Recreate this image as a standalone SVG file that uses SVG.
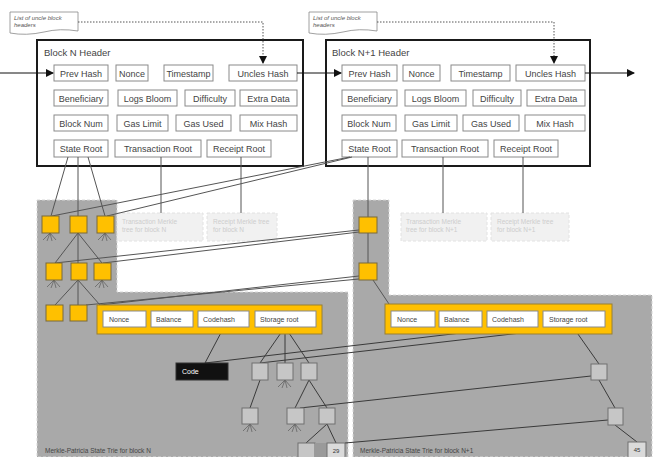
<svg xmlns="http://www.w3.org/2000/svg" xmlns:xlink="http://www.w3.org/1999/xlink" width="656" height="457" viewBox="0 0 656 457">
<style>
text{font-family:"Liberation Sans",Arial,sans-serif;}
.hdr{fill:#fff;stroke:#1a1a1a;stroke-width:2;}
.title{font-size:9.5px;fill:#444;}
.fld{fill:#fff;stroke:#8a8a8a;stroke-width:1;}
.ft{font-size:9px;fill:#444;text-anchor:middle;}
.note{fill:#fff;stroke:#888;stroke-width:0.8;}
.nt{font-size:6px;font-style:italic;fill:#555;}
.region{fill:#a9a9a9;stroke:#d8d8d8;stroke-width:1;stroke-dasharray:3,2;}
.faint{fill:#f1f1f1;stroke:#e2e2e2;stroke-width:1;stroke-dasharray:3,2;}
.fnt{font-size:6.5px;fill:#cdcdcd;}
.on{fill:#ffc000;stroke:#7a6a3a;stroke-width:1;}
.gn{fill:#c6c6c6;stroke:#707070;stroke-width:1;}
.acct{fill:#ffc000;stroke:#9a8030;stroke-width:1;}
.af{fill:#fff;stroke:#8a8a8a;stroke-width:1;}
.at{font-size:7px;fill:#444;}
.ln{stroke:#555;stroke-width:1;fill:none;}
.dk{stroke:#3a3a3a;stroke-width:1;fill:none;}
.dot{stroke:#555;stroke-width:1;fill:none;stroke-dasharray:1.5,1.5;}
.arr{stroke:#111;stroke-width:1;fill:none;}
.stub{stroke:#5a5a5a;stroke-width:0.7;fill:none;}
.lbl{font-size:6.5px;fill:#444;}
</style>
<defs>
<marker id="ah" markerWidth="8" markerHeight="8" refX="7" refY="4" orient="auto" markerUnits="userSpaceOnUse">
<path d="M0,0 L8,4 L0,8 Z" fill="#111"/>
</marker>
<path id="stubs" d="M0,0 L-7,7 M0,0 L-3,8 M0,0 L2,8 M0,0 L6,7"/>
</defs>

<!-- regions -->
<g id="regions">
<path class="region" d="M37,200 H117 V292 H348 V457 H37 Z"/>
<path class="region" d="M353,200 H389 V295 H652 V457 H353 Z"/>
</g>

<!-- notes -->
<g id="note-n">
<path class="note" d="M10,12 H78 V31 Q60,28 44,32 Q26,36 10,33 Z"/>
<text class="nt" x="14" y="19.5">List of uncle block</text>
<text class="nt" x="14" y="27">headers</text>
</g>
<g id="note-n1">
<path class="note" d="M309,12 H377 V31 Q359,28 343,32 Q325,36 309,33 Z"/>
<text class="nt" x="313" y="19.5">List of uncle block</text>
<text class="nt" x="313" y="27">headers</text>
</g>

<!-- header N -->
<g id="block-n">
<rect class="hdr" x="37" y="40" width="266" height="126"/>
<text class="title" x="44" y="56">Block N Header</text>
<rect class="fld" x="54" y="65" width="54" height="16"/><text class="ft" x="81" y="76.5">Prev Hash</text>
<rect class="fld" x="116" y="65" width="32" height="16"/><text class="ft" x="132" y="76.5">Nonce</text>
<rect class="fld" x="164" y="65" width="49" height="16"/><text class="ft" x="188.5" y="76.5">Timestamp</text>
<rect class="fld" x="229" y="65" width="68" height="16"/><text class="ft" x="263" y="76.5">Uncles Hash</text>
<rect class="fld" x="54" y="90" width="54" height="16"/><text class="ft" x="81" y="101.5">Beneficiary</text>
<rect class="fld" x="118" y="90" width="59" height="16"/><text class="ft" x="147.5" y="101.5">Logs Bloom</text>
<rect class="fld" x="185" y="90" width="50" height="16"/><text class="ft" x="210" y="101.5">Difficulty</text>
<rect class="fld" x="240" y="90" width="57" height="16"/><text class="ft" x="268.5" y="101.5">Extra Data</text>
<rect class="fld" x="54" y="115" width="54" height="16"/><text class="ft" x="81" y="126.5">Block Num</text>
<rect class="fld" x="117" y="115" width="51" height="16"/><text class="ft" x="142.5" y="126.5">Gas Limit</text>
<rect class="fld" x="176" y="115" width="55" height="16"/><text class="ft" x="203.5" y="126.5">Gas Used</text>
<rect class="fld" x="240" y="115" width="57" height="16"/><text class="ft" x="268.5" y="126.5">Mix Hash</text>
<rect class="fld" x="54" y="140" width="54" height="17"/><text class="ft" x="81" y="152">State Root</text>
<rect class="fld" x="115" y="140" width="86" height="17"/><text class="ft" x="158" y="152">Transaction Root</text>
<rect class="fld" x="207" y="140" width="64" height="17"/><text class="ft" x="239" y="152">Receipt Root</text>
</g>

<!-- header N+1 -->
<g id="block-n1">
<rect class="hdr" x="326" y="40" width="264" height="126"/>
<text class="title" x="332" y="56">Block N+1 Header</text>
<rect class="fld" x="342" y="65" width="55" height="16"/><text class="ft" x="369.5" y="76.5">Prev Hash</text>
<rect class="fld" x="403" y="65" width="37" height="16"/><text class="ft" x="421.5" y="76.5">Nonce</text>
<rect class="fld" x="451" y="65" width="59" height="16"/><text class="ft" x="480.5" y="76.5">Timestamp</text>
<rect class="fld" x="516" y="65" width="69" height="16"/><text class="ft" x="550.5" y="76.5">Uncles Hash</text>
<rect class="fld" x="342" y="90" width="55" height="16"/><text class="ft" x="369.5" y="101.5">Beneficiary</text>
<rect class="fld" x="405" y="90" width="61" height="16"/><text class="ft" x="435.5" y="101.5">Logs Bloom</text>
<rect class="fld" x="473" y="90" width="48" height="16"/><text class="ft" x="497" y="101.5">Difficulty</text>
<rect class="fld" x="527" y="90" width="58" height="16"/><text class="ft" x="556" y="101.5">Extra Data</text>
<rect class="fld" x="342" y="115" width="54" height="16"/><text class="ft" x="369" y="126.5">Block Num</text>
<rect class="fld" x="405" y="115" width="52" height="16"/><text class="ft" x="431" y="126.5">Gas Limit</text>
<rect class="fld" x="463" y="115" width="56" height="16"/><text class="ft" x="491" y="126.5">Gas Used</text>
<rect class="fld" x="525" y="115" width="60" height="16"/><text class="ft" x="555" y="126.5">Mix Hash</text>
<rect class="fld" x="342" y="140" width="55" height="17"/><text class="ft" x="369.5" y="152">State Root</text>
<rect class="fld" x="402" y="140" width="86" height="17"/><text class="ft" x="445" y="152">Transaction Root</text>
<rect class="fld" x="494" y="140" width="64" height="17"/><text class="ft" x="526" y="152">Receipt Root</text>
</g>

<!-- faint trees -->
<g id="tx-tree-n"><rect class="faint" x="117" y="213" width="86" height="28"/><text class="fnt" x="122" y="224">Transaction Merkle</text><text class="fnt" x="122" y="232">tree for block N</text></g>
<g id="rc-tree-n"><rect class="faint" x="207" y="213" width="70" height="28"/><text class="fnt" x="213" y="224">Receipt Merkle tree</text><text class="fnt" x="213" y="232">for block N</text></g>
<g id="tx-tree-n1"><rect class="faint" x="401" y="213" width="86" height="28"/><text class="fnt" x="406" y="224">Transaction Merkle</text><text class="fnt" x="406" y="232">tree for block N+1</text></g>
<g id="rc-tree-n1"><rect class="faint" x="491" y="213" width="78" height="28"/><text class="fnt" x="497" y="224">Receipt Merkle tree</text><text class="fnt" x="497" y="232">for block N+1</text></g>

<!-- connectors -->
<g id="connectors">
<path class="dot" d="M78,22 H263 V63" marker-end="url(#ah)"/>
<path class="dot" d="M377,22 H554 V63" marker-end="url(#ah)"/>
<path class="arr" d="M0,73 H53" marker-end="url(#ah)"/>
<path class="arr" d="M297,73 H341" marker-end="url(#ah)"/>
<path class="arr" d="M585,73 H634" marker-end="url(#ah)"/>
<path class="ln" d="M161,157 V213 M241,157 V213 M443,157 V213 M523,157 V213"/>
<path class="ln" d="M68,157 L51,216 M78,157 V305 M88,157 L105,216"/>
<path class="ln" d="M78,233 L55,263 M78,233 L102,263 M78,280 L55,305 M78,280 L100,305"/>
<path class="ln" d="M350,157 L52,216 M352,157 L107,216"/>
<path class="ln" d="M368,157 V263 M373,280 L389,304"/>
<path class="ln" d="M359,230 L55,263 M359,232 L103,263"/>
<path class="ln" d="M359,276 L100,305 M359,279 L86,305"/>
<path class="dk" d="M224,327 L205,363 M285,327 L260,363 M285,327 L285,363 M285,327 L309,363"/>
<path class="dk" d="M260,380 L250,408 M309,380 L295,408 M309,380 L327,408 M327,424 L306,443 M327,424 L336,443"/>
<path class="dk" d="M512,327 L205,363 M573,327 L260,363 M573,327 L599,364 M599,380 L615,408 M615,425 L637,442"/>
<path class="dk" d="M591,376 L300,408 M608,420 L345,443"/>
<g class="stub">
<use xlink:href="#stubs" x="50" y="233"/><use xlink:href="#stubs" x="105" y="233"/>
<use xlink:href="#stubs" x="54" y="280"/><use xlink:href="#stubs" x="102" y="280"/>
<use xlink:href="#stubs" x="285" y="380"/><use xlink:href="#stubs" x="250" y="424"/><use xlink:href="#stubs" x="295" y="424"/>
</g>
</g>

<!-- orange trie nodes -->
<g id="state-n-nodes">
<rect class="on" x="42" y="216" width="17" height="17"/><rect class="on" x="70" y="216" width="17" height="17"/><rect class="on" x="97" y="216" width="17" height="17"/>
<rect class="on" x="46" y="263" width="16" height="17"/><rect class="on" x="71" y="263" width="16" height="17"/><rect class="on" x="94" y="263" width="17" height="17"/>
<rect class="on" x="46" y="305" width="17" height="16"/><rect class="on" x="70" y="305" width="17" height="16"/>
</g>
<g id="state-n1-nodes">
<rect class="on" x="359" y="217" width="18" height="16"/>
<rect class="on" x="359" y="263" width="18" height="17"/>
</g>

<!-- account N -->
<g id="account-n">
<rect class="acct" x="97" y="305" width="225" height="29"/>
<rect class="af" x="103" y="311" width="43" height="16"/><text class="at" x="109" y="321.5">Nonce</text>
<rect class="af" x="151" y="311" width="42" height="16"/><text class="at" x="156" y="321.5">Balance</text>
<rect class="af" x="198" y="311" width="51" height="16"/><text class="at" x="203" y="321.5">Codehash</text>
<rect class="af" x="255" y="311" width="61" height="16"/><text class="at" x="260" y="321.5">Storage root</text>
</g>
<!-- account N+1 -->
<g id="account-n1">
<rect class="acct" x="385" y="304" width="227" height="30"/>
<rect class="af" x="391" y="311" width="44" height="16"/><text class="at" x="397" y="321.5">Nonce</text>
<rect class="af" x="439" y="311" width="43" height="16"/><text class="at" x="444" y="321.5">Balance</text>
<rect class="af" x="487" y="311" width="51" height="16"/><text class="at" x="492" y="321.5">Codehash</text>
<rect class="af" x="543" y="311" width="62" height="16"/><text class="at" x="549" y="321.5">Storage root</text>
</g>

<g id="code"><rect x="176" y="363" width="52" height="17" fill="#111" stroke="#333"/><text x="182" y="374" font-size="7" fill="#fff" font-family="Liberation Sans, Arial, sans-serif">Code</text></g>

<!-- grey storage nodes -->
<g id="storage-n">
<rect class="gn" x="252" y="363" width="16" height="17"/><rect class="gn" x="277" y="363" width="16" height="17"/><rect class="gn" x="301" y="363" width="16" height="17"/>
<rect class="gn" x="242" y="408" width="16" height="16"/><rect class="gn" x="287" y="408" width="17" height="16"/><rect class="gn" x="319" y="408" width="16" height="16"/>
<rect class="gn" x="298" y="443" width="17" height="16"/><rect x="315" y="443" width="12" height="16" fill="#9a9a9a"/>
<rect x="327" y="443" width="18" height="16" fill="#dadada" stroke="#707070"/><text x="336" y="453" font-size="6" fill="#333" text-anchor="middle" font-family="Liberation Sans, Arial, sans-serif">29</text>
</g>
<g id="storage-n1">
<rect class="gn" x="591" y="364" width="16" height="16"/>
<rect class="gn" x="608" y="408" width="15" height="17"/>
<rect x="628" y="442" width="18" height="17" fill="#dadada" stroke="#707070"/><text x="637" y="452" font-size="6" fill="#333" text-anchor="middle" font-family="Liberation Sans, Arial, sans-serif">45</text>
</g>

<text class="lbl" x="45" y="453">Merkle-Patricia  State  Trie  for block N</text>
<text class="lbl" x="360" y="453">Merkle-Patricia  State  Trie  for block N+1</text>
</svg>
